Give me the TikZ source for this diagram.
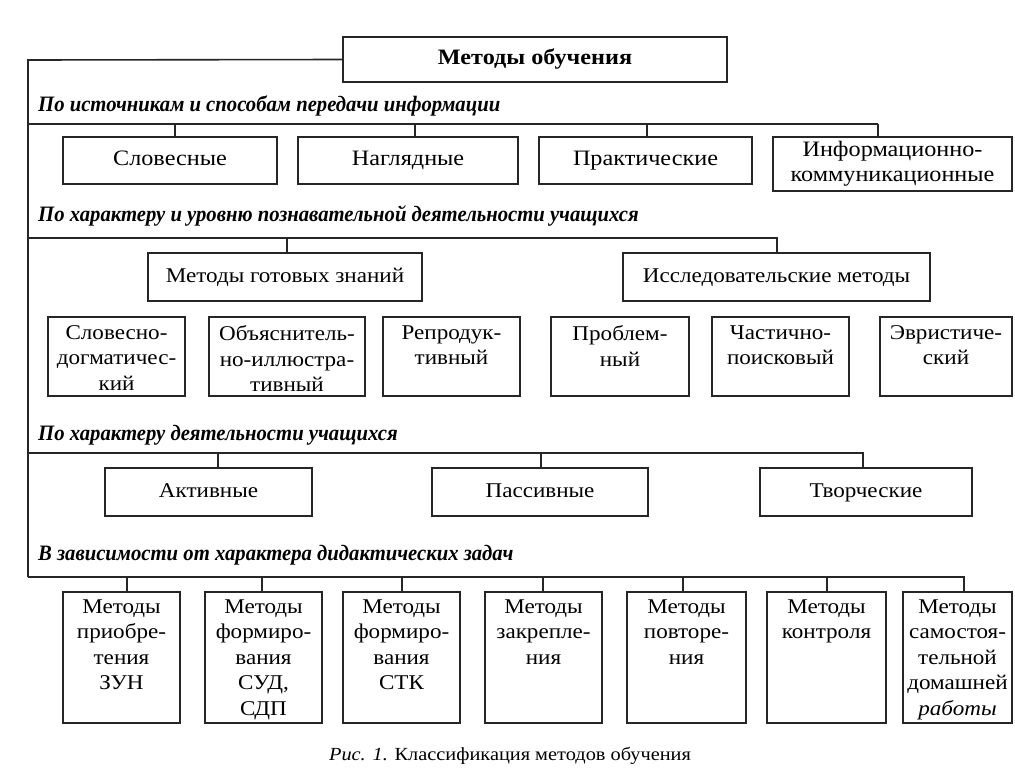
\documentclass[tikz,border=0pt]{standalone}
\usepackage{fontspec}
\setmainfont{Liberation Serif}[FakeStretch=1.1]
\newfontfamily\labfont[FakeStretch=0.94]{Liberation Serif}
\usetikzlibrary{fit}
\tikzset{
  box/.style={draw=black!85, line width=1.3pt, inner sep=0pt},
  bus/.style={draw=black!85, line width=1.6pt},
  txt/.style={font=\fontsize{21}{25.5}\selectfont, align=center, inner sep=0pt},
  oneline/.style={txt, text height=14pt, text depth=4pt},
  bigline/.style={oneline, font=\fontsize{22}{26}\selectfont},
  lab/.style={font=\labfont\bfseries\itshape\fontsize{22}{24}\selectfont, anchor=west, inner sep=0pt},
}
\newcommand\bx[5]{\node[box, fit={(#2,#3) (#4,#5)}] (#1) {};}
\begin{document}
\begin{tikzpicture}[x=1pt,y=-1pt]
\fill[white] (0,0) rectangle (1015,777);
\useasboundingbox (0,0) rectangle (1015,777);

% top
\node[box, line width=1.6pt, fit={(343,37) (727,82)}] (top) {};
\node[bigline, font=\bfseries\fontsize{22}{26}\selectfont] (topt) at (top) {Методы обучения};
\coordinate (corner) at (28,60);
\coordinate (b1s) at (28,124);
\coordinate (b2s) at (28,238);
\coordinate (b3s) at (28,453);
\coordinate (b4s) at (28,577);
\draw[bus] (top.west) -- (corner) -- (b4s);

% group 1
\node[lab] (l1) at (38,106) {По источникам и способам передачи информации};
\bx{s1}{63}{137}{277}{184}
\bx{s2}{298}{137}{518}{184}
\bx{s3}{539}{137}{752}{184}
\bx{s4}{773}{137}{1012}{191}
\node[bigline] (s1t) at (s1) {Словесные};
\node[bigline] (s2t) at (s2) {Наглядные};
\node[bigline] (s3t) at (s3) {Практические};
\node[txt, font=\fontsize{22}{25}\selectfont] (s4t) at (s4) {Информационно-\\коммуникационные};
\coordinate (b1a) at (175,124);
\coordinate (b1b) at (415,124);
\coordinate (b1c) at (647,124);
\coordinate (b1d) at (878,124);
\draw[bus] (b1s) -- (b1d);
\draw[bus] (b1a) -- (b1a |- s1.north);
\draw[bus] (b1b) -- (b1b |- s2.north);
\draw[bus] (b1c) -- (b1c |- s3.north);
\draw[bus] (b1d) -- (b1d |- s4.north);

% group 2
\node[lab] (l2) at (38,216) {По характеру и уровню познавательной деятельности учащихся};
\bx{m1}{148}{253}{422}{301}
\bx{m2}{623}{253}{930}{301}
\node[oneline] (m1t) at (m1) {Методы готовых знаний};
\node[oneline] (m2t) at (m2) {Исследовательские методы};
\coordinate (b2a) at (287,238);
\coordinate (b2b) at (777,238);
\draw[bus] (b2s) -- (b2b) -- (b2b |- m2.north);
\draw[bus] (b2a) -- (b2a |- m1.north);
\bx{d1}{48}{317}{185}{396}
\bx{d2}{209}{317}{365}{396}
\bx{d3}{383}{317}{520}{396}
\bx{d4}{551}{317}{689}{396}
\bx{d5}{712}{317}{849}{396}
\bx{d6}{880}{317}{1012}{396}
\node[txt, anchor=north] (d1t) at ([yshift=-9pt]d1.north) {Словесно-\\догматичес-\\кий};
\node[txt, anchor=north] (d2t) at ([yshift=-9pt]d2.north) {Объяснитель-\\но-иллюстра-\\тивный};
\node[txt, anchor=north] (d3t) at ([yshift=-9pt]d3.north) {Репродук-\\тивный};
\node[txt, anchor=north] (d4t) at ([yshift=-9pt]d4.north) {Проблем-\\ный};
\node[txt, anchor=north] (d5t) at ([yshift=-9pt]d5.north) {Частично-\\поисковый};
\node[txt, anchor=north] (d6t) at ([yshift=-9pt]d6.north) {Эвристиче-\\ский};

% group 3
\node[lab] (l3) at (38,435) {По характеру деятельности учащихся};
\bx{a1}{105}{468}{312}{516}
\bx{a2}{432}{468}{648}{516}
\bx{a3}{760}{468}{972}{516}
\node[oneline] (a1t) at (a1) {Активные};
\node[oneline] (a2t) at (a2) {Пассивные};
\node[oneline] (a3t) at (a3) {Творческие};
\coordinate (b3a) at (218,453);
\coordinate (b3b) at (541,453);
\coordinate (b3c) at (863,453);
\draw[bus] (b3s) -- (b3c) -- (b3c |- a3.north);
\draw[bus] (b3a) -- (b3a |- a1.north);
\draw[bus] (b3b) -- (b3b |- a2.north);

% group 4
\node[lab] (l4) at (38,555) {В зависимости от характера дидактических задач};
\bx{e1}{63}{592}{180}{723}
\bx{e2}{205}{592}{322}{723}
\bx{e3}{343}{592}{460}{723}
\bx{e4}{485}{592}{602}{723}
\bx{e5}{627}{592}{746}{723}
\bx{e6}{767}{592}{886}{723}
\bx{e7}{903}{592}{1012}{723}
\node[txt, anchor=north] (e1t) at ([yshift=-8pt]e1.north) {Методы\\приобре-\\тения\\ЗУН};
\node[txt, anchor=north] (e2t) at ([yshift=-8pt]e2.north) {Методы\\формиро-\\вания\\СУД,\\СДП};
\node[txt, anchor=north] (e3t) at ([yshift=-8pt]e3.north) {Методы\\формиро-\\вания\\СТК};
\node[txt, anchor=north] (e4t) at ([yshift=-8pt]e4.north) {Методы\\закрепле-\\ния};
\node[txt, anchor=north] (e5t) at ([yshift=-8pt]e5.north) {Методы\\повторе-\\ния};
\node[txt, anchor=north] (e6t) at ([yshift=-8pt]e6.north) {Методы\\контроля};
\node[txt, anchor=north] (e7t) at ([yshift=-8pt]e7.north) {Методы\\самостоя-\\тельной\\домашней\\\textit{работы}};
\coordinate (b4a) at (127,577);
\coordinate (b4b) at (262,577);
\coordinate (b4c) at (402,577);
\coordinate (b4d) at (543,577);
\coordinate (b4e) at (683,577);
\coordinate (b4f) at (827,577);
\coordinate (b4g) at (964,577);
\draw[bus] (b4s) -- (b4g) -- (b4g |- e7.north);
\foreach \c/\n in {b4a/e1,b4b/e2,b4c/e3,b4d/e4,b4e/e5,b4f/e6}
  \draw[bus] (\c) -- (\c |- \n.north);

% caption
\node[txt, font=\fontsize{18.5}{22}\selectfont] (cap) at (510,756) {\textit{Рис. 1.} Классификация методов обучения};
\end{tikzpicture}
\end{document}
